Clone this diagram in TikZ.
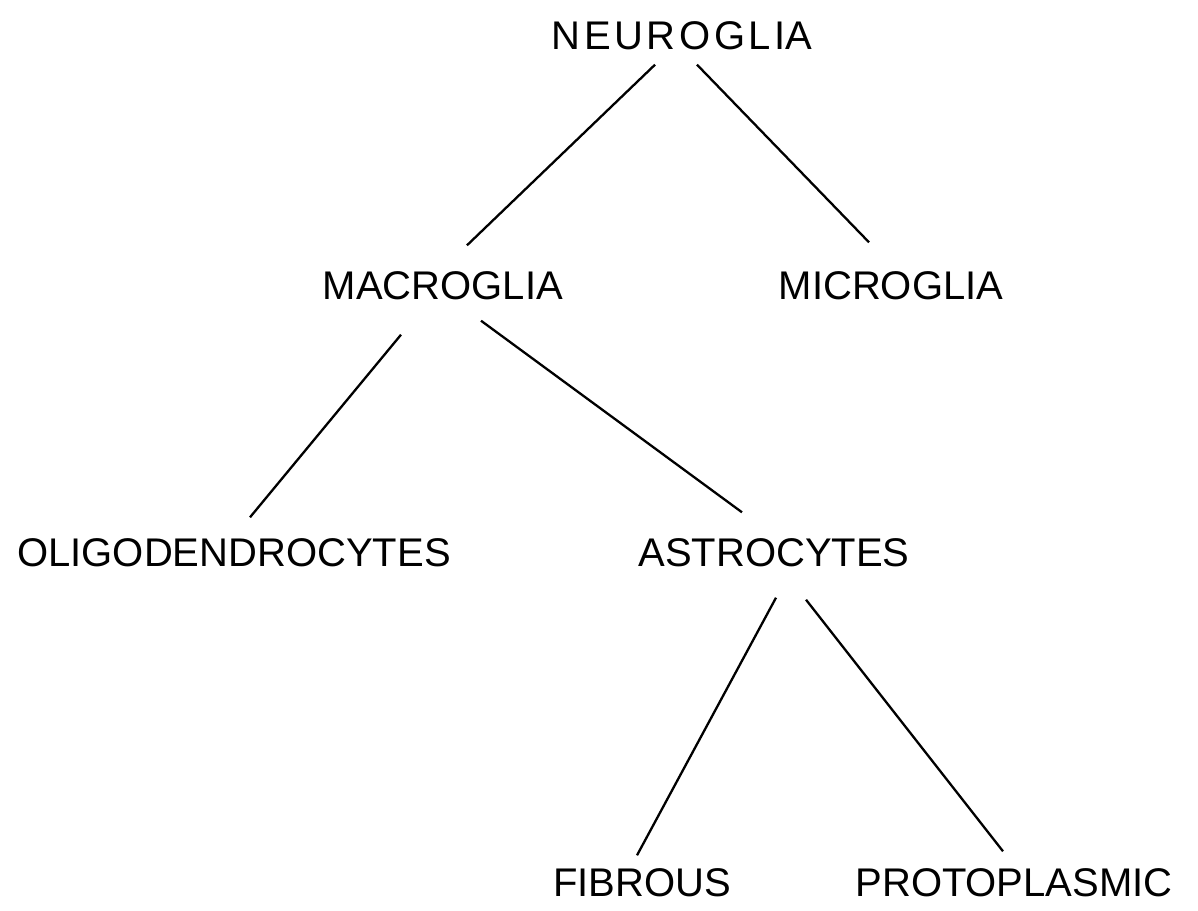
\documentclass[tikz,border=0pt]{standalone}
\usepackage{fontspec}
\setmainfont{Liberation Sans}
\usetikzlibrary{calc}
\begin{document}
\begin{tikzpicture}[x=1pt,y=-1pt,
  lbl/.style={inner sep=0pt,text height=29pt,text depth=0pt,font=\fontsize{40}{44}\selectfont},
  link/.style={line width=2.3pt}]
\useasboundingbox (0,0) rectangle (1198,910);
\node[lbl] (neu) at (682,35) {\addfontfeature{LetterSpace=9}NEUROGLI\addfontfeature{LetterSpace=0}A};
\node[lbl] (mac) at (443,285) {MACROGLIA};
\node[lbl] (mic) at (891,285) {MICROGLIA};
\node[lbl] (oli) at (234,552) {OLIGODENDROCYTES};
\node[lbl] (ast) at (774,552) {ASTROCYTES};
\node[lbl] (fib) at (642,882) {FIBROUS};
\node[lbl] (pro) at (1014,882) {PROTOPLASMIC};
\draw[link] ($(neu.south)+(-27,15)$) -- ($(mac.north)+(24,-25)$);
\draw[link] ($(neu.south)+(15,15)$) -- ($(mic.north)+(-22,-28)$);
\draw[link] ($(mac.south)+(-42,35)$) -- ($(oli.north)+(16,-20)$);
\draw[link] ($(mac.south)+(38,21)$) -- ($(ast.north)+(-32,-25)$);
\draw[link] ($(ast.south)+(2,31)$) -- ($(fib.north)+(-5,-12)$);
\draw[link] ($(ast.south)+(32,33)$) -- ($(pro.north)+(-11,-16)$);
\end{tikzpicture}
\end{document}
